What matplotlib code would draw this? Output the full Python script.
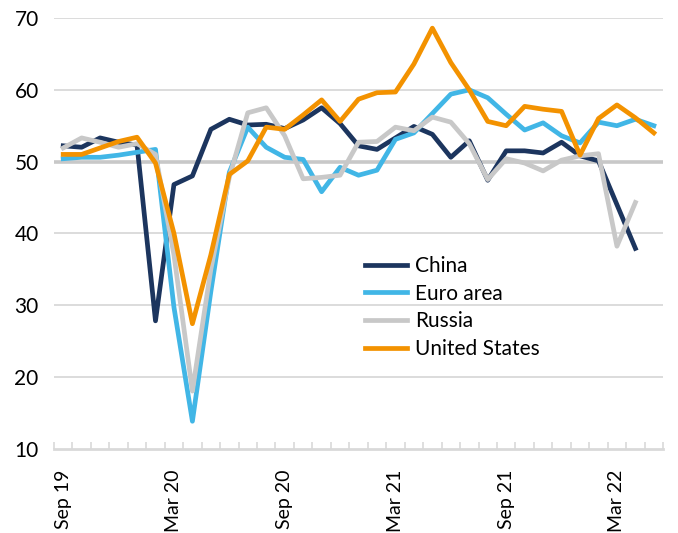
import matplotlib
matplotlib.use("Agg")
import matplotlib.pyplot as plt
import numpy as np

nan = np.nan

# monthly composite PMI, Sep 2019 .. May 2022
tick_labels = ["Sep 19", "Mar 20", "Sep 20", "Mar 21", "Sep 21", "Mar 22"]

china = [52.2, 52.0, 53.3, 52.7, 52.3, 27.8, 46.8, 48.0, 54.5, 55.9, 55.1,
         55.2, 54.6, 55.8, 57.5, 55.3, 52.2, 51.7, 53.3, 54.9, 53.8, 50.6,
         52.9, 47.4, 51.5, 51.5, 51.2, 52.7, 50.8, 50.1, 44.0, 37.9, nan]
euro = [50.4, 50.6, 50.6, 50.9, 51.3, 51.7, 29.7, 13.8, 31.9, 48.5, 54.8,
        52.0, 50.6, 50.3, 45.8, 49.2, 48.1, 48.8, 53.1, 54.0, 56.7, 59.4,
        60.0, 58.9, 56.6, 54.4, 55.4, 53.6, 52.6, 55.5, 55.0, 55.9, 55.0]
russia = [51.9, 53.3, 52.7, 52.0, 52.5, 51.0, 37.0, 18.0, 35.0, 47.8, 56.8,
          57.5, 53.6, 47.6, 47.8, 48.1, 52.7, 52.8, 54.8, 54.3, 56.2, 55.5,
          52.5, 47.5, 50.4, 49.8, 48.7, 50.2, 50.8, 51.1, 38.2, 44.3, nan]
usa = [51.0, 51.0, 51.9, 52.8, 53.4, 49.8, 40.0, 27.4, 37.0, 48.2, 50.1,
       54.8, 54.5, 56.5, 58.6, 55.6, 58.7, 59.6, 59.7, 63.6, 68.6, 63.8,
       60.0, 55.6, 55.0, 57.7, 57.3, 57.0, 50.9, 56.0, 57.9, 56.1, 54.0]

plt.rcParams["font.family"] = ["Lato", "DejaVu Sans"]

fig = plt.figure(figsize=(6.78, 5.33), dpi=100)
ax = fig.add_axes([0.0796, 0.1585, 0.8984, 0.8075])

x = np.arange(len(euro))
grid_c = "#d9d9d9"
for v in [20, 30, 40, 60, 70]:
    ax.axhline(v, color=grid_c, lw=1.3, zorder=0)
ax.axhline(50, color="#c8c8c8", lw=2.6, zorder=1)

lw = 3.4
ax.plot(x, china, color="#1c355e", lw=lw, label="China", zorder=3)
ax.plot(x, euro, color="#41b6e6", lw=lw, label="Euro area", zorder=3)
ax.plot(x, russia, color="#c8c8c8", lw=lw, label="Russia", zorder=3)
ax.plot(x, usa, color="#f39200", lw=lw, label="United States", zorder=3)

ax.set_xlim(-0.5, len(x) - 0.5)
ax.set_ylim(10, 70)
ax.set_yticks([10, 20, 30, 40, 50, 60, 70])

ax.set_xticks(np.arange(0, len(x), 6))
ax.set_xticklabels(tick_labels, rotation=90, fontsize=14)
ax.set_xticks(np.arange(-0.5, len(x), 1), minor=True)
ax.tick_params(axis="x", which="major", length=0, pad=15)
ax.tick_params(axis="x", which="minor", length=5, direction="in",
               color=grid_c, width=1.2)
ax.tick_params(axis="y", length=0, pad=11, labelsize=15)

for s in ["top", "right", "left"]:
    ax.spines[s].set_visible(False)
ax.spines["bottom"].set_color(grid_c)
ax.spines["bottom"].set_linewidth(2)

ax.legend(loc="upper left", bbox_to_anchor=(0.539, 0.52),
          bbox_transform=fig.transFigure, frameon=False, fontsize=15,
          handlelength=2.0, handletextpad=0.38, labelspacing=0.37,
          borderaxespad=0, borderpad=0)

fig.savefig("out.png", dpi=100)
